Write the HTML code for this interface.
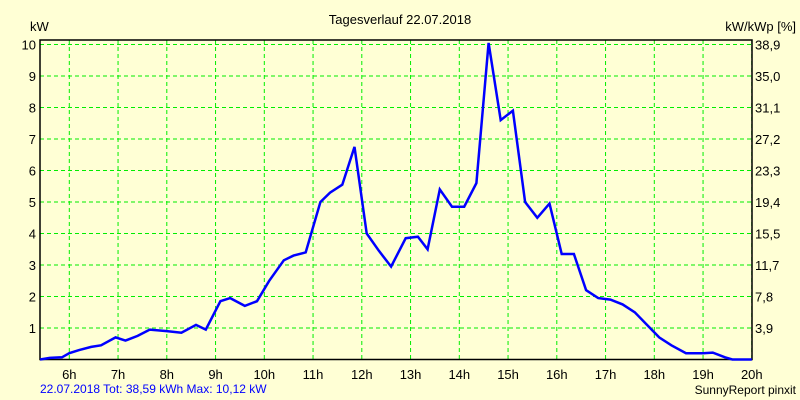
<!DOCTYPE html>
<html><head><meta charset="utf-8"><style>
body{margin:0;background:#ffffd5;}
svg{display:block;font-family:"Liberation Sans",sans-serif;font-size:13px;}
</style></head><body>
<svg width="800" height="400">
<rect width="800" height="400" fill="#ffffd5"/>
<text x="400" y="24" text-anchor="middle">Tagesverlauf 22.07.2018</text>
<text x="30" y="31">kW</text>
<text x="796" y="31" text-anchor="end">kW/kWp [%]</text>
<g id="grid"></g>
<g id="axes"></g>
<path id="line" fill="none" stroke="#0000ff" stroke-width="2.5"/>
<text x="40" y="393" fill="#0000ff" font-size="12">22.07.2018 Tot: 38,59 kWh Max: 10,12 kW</text>
<text x="796" y="394" text-anchor="end" font-size="12">SunnyReport pinxit</text>
</svg>
<script>
const times=[5.4,5.6,5.85,6.0,6.2,6.45,6.65,6.95,7.15,7.4,7.65,8.0,8.3,8.6,8.8,9.1,9.3,9.6,9.85,10.1,10.4,10.6,10.85,11.15,11.35,11.6,11.85,12.1,12.35,12.6,12.9,13.15,13.35,13.6,13.85,14.1,14.35,14.6,14.85,15.1,15.35,15.6,15.85,16.1,16.35,16.6,16.85,17.1,17.35,17.6,17.85,18.1,18.35,18.65,19.0,19.2,19.45,19.6,20.0];
const power=[0,0.05,0.07,0.2,0.3,0.4,0.45,0.7,0.6,0.75,0.95,0.9,0.85,1.1,0.95,1.85,1.95,1.7,1.85,2.5,3.15,3.3,3.4,5.0,5.3,5.55,6.75,4.0,3.45,2.95,3.85,3.9,3.5,5.4,4.85,4.85,5.6,10.05,7.6,7.9,5.0,4.5,4.95,3.35,3.35,2.2,1.95,1.9,1.75,1.5,1.1,0.7,0.45,0.2,0.2,0.22,0.07,0,0];
const yTicks=[1,2,3,4,5,6,7,8,9,10];
const y2Labels=["3,9","7,8","11,7","15,5","19,4","23,3","27,2","31,1","35,0","38,9"];
const xTicks=[6,7,8,9,10,11,12,13,14,15,16,17,18,19,20];
const NS="http://www.w3.org/2000/svg";
const L=40,R=752,B=359.5,T=44.5;
const xs=h=>69.3+(h-6)*48.75;
const ys=v=>B-(B-T)*v/10;
const grid=document.getElementById('grid'),axes=document.getElementById('axes');
function mk(tag,attrs,parent){const e=document.createElementNS(NS,tag);for(const k in attrs)e.setAttribute(k,attrs[k]);parent.appendChild(e);return e;}
yTicks.forEach((v,i)=>{
 const g=mk('line',{x1:L,x2:R,y1:ys(v),y2:ys(v),stroke:'#00ee00','stroke-dasharray':'4,3'},grid);
 
 
 const t=mk('text',{x:L-4,y:ys(v)+5,'text-anchor':'end'},axes);t.textContent=v;
 
 
 const t2=mk('text',{x:R+3,y:ys(v)+5},axes);t2.textContent=y2Labels[i];
 
 
});
xTicks.forEach(h=>{
 const g=mk('line',{x1:xs(h),x2:xs(h),y1:40,y2:B,stroke:'#00ee00','stroke-dasharray':'4,3'},grid);
 
 
 const t=mk('text',{x:xs(h),y:379,'text-anchor':'middle'},axes);t.textContent=h+'h';
 
 
});
const f=mk('path',{d:`M${L},${B} L${L},40 L${R},40 L${R},${B} Z`,fill:'none',stroke:'#000','stroke-width':1.5},axes);


document.getElementById('line').setAttribute('d',times.map((t,i)=>(i?'L':'M')+Math.min(R,xs(t)).toFixed(1)+','+ys(power[i]).toFixed(1)).join(' '));
</script>
</body></html>
